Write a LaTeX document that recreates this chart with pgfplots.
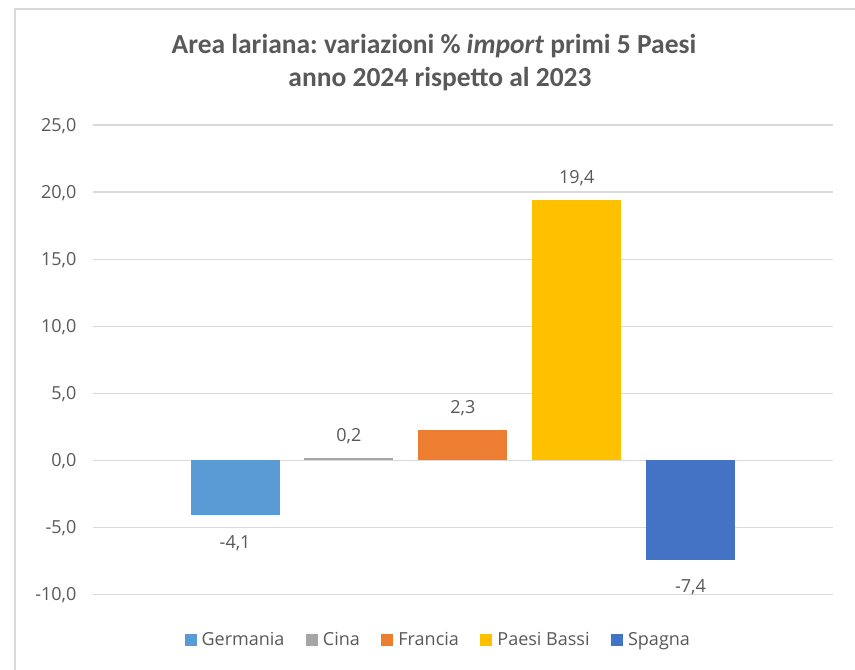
\documentclass[border=0pt]{standalone}
\usepackage{fontspec}
\setmainfont{Open Sans}
\newfontfamily\titlefont{Carlito}
\usepackage{pgfplots}
\pgfplotsset{compat=1.18}
\frenchspacing

\definecolor{txt}{HTML}{595959}
\definecolor{gridc}{HTML}{D9D9D9}
\definecolor{cGer}{HTML}{5B9BD5}
\definecolor{cCin}{HTML}{A5A5A5}
\definecolor{cFra}{HTML}{ED7D31}
\definecolor{cPbs}{HTML}{FFC000}
\definecolor{cSpa}{HTML}{4472C4}

\newcommand{\lblfont}{\fontsize{18}{22}\selectfont}

\pgfplotsset{
  lbl/.style={every node near coord/.append style={font=\lblfont, text=txt,
      inner sep=0pt, text height=13pt, text depth=0pt}},
  pos/.style={nodes near coords, lbl,
      every node near coord/.append style={anchor=south, yshift=16pt}},
  neg/.style={nodes near coords, lbl,
      every node near coord/.append style={anchor=north, yshift=-20pt}},
  bar/.style={ybar, bar width=0.782, bar shift=0pt, draw=none, fill=#1},
}

\begin{document}
\begin{tikzpicture}[x=1pt,y=1pt]
\path[use as bounding box, fill=white] (0,0) rectangle (855,670);
% chart frame (only top and left edges are in the screenshot)
\draw[line width=2.2pt, gridc] (855,661) -- (15,661) -- (15,0);

\node[anchor=base, text=txt, font=\titlefont\bfseries\fontsize{27.5}{33}\selectfont]
  at (434,616) {Area lariana: variazioni \% \textit{import} primi 5 Paesi};
\node[anchor=base, text=txt, font=\titlefont\bfseries\fontsize{27.5}{33}\selectfont]
  at (440,583) {anno 2024 rispetto al 2023};

\begin{axis}[
    at={(81.3,56.3)}, anchor=south west,
    scale only axis,
    width=740.7pt, height=469.4pt,
    xmin=-1.252, xmax=5.254,
    ymin=-10, ymax=25,
    ytick={-10,-5,...,25},
    xtick=\empty,
    major tick length=0pt,
    axis line style={draw=none},
    ymajorgrids=true,
    grid style={draw=gridc, line width=1.3pt},
    yticklabel style={font=\lblfont, text=txt, anchor=east, inner sep=0pt,
      text height=13pt, text depth=0pt, xshift=-16pt},
    /pgf/number format/use comma,
    /pgf/number format/fixed,
    /pgf/number format/fixed zerofill,
    /pgf/number format/precision=1,
    /pgf/number format/assume math mode=true,
    legend columns=-1,
    legend style={at={(rel axis cs:0.4667,-0.0965)}, anchor=center,
      draw=none, fill=none, font=\lblfont, text=txt,
      /tikz/every odd column/.append style={column sep=3pt},
      /tikz/every even column/.append style={column sep=19.5pt}},
    legend image code/.code={\fill[#1] (0pt,-6pt) rectangle (12pt,6pt);},
]
\addplot[bar=cGer, neg] coordinates {(0,-4.1)};
\addlegendentry{Germania}
\addplot[bar=cCin, pos] coordinates {(1,0.2)};
\addlegendentry{Cina}
\addplot[bar=cFra, pos] coordinates {(2,2.3)};
\addlegendentry{Francia}
\addplot[bar=cPbs, pos] coordinates {(3,19.4)};
\addlegendentry{Paesi Bassi}
\addplot[bar=cSpa, neg] coordinates {(4,-7.4)};
\addlegendentry{Spagna}
\end{axis}
\end{tikzpicture}
\end{document}
